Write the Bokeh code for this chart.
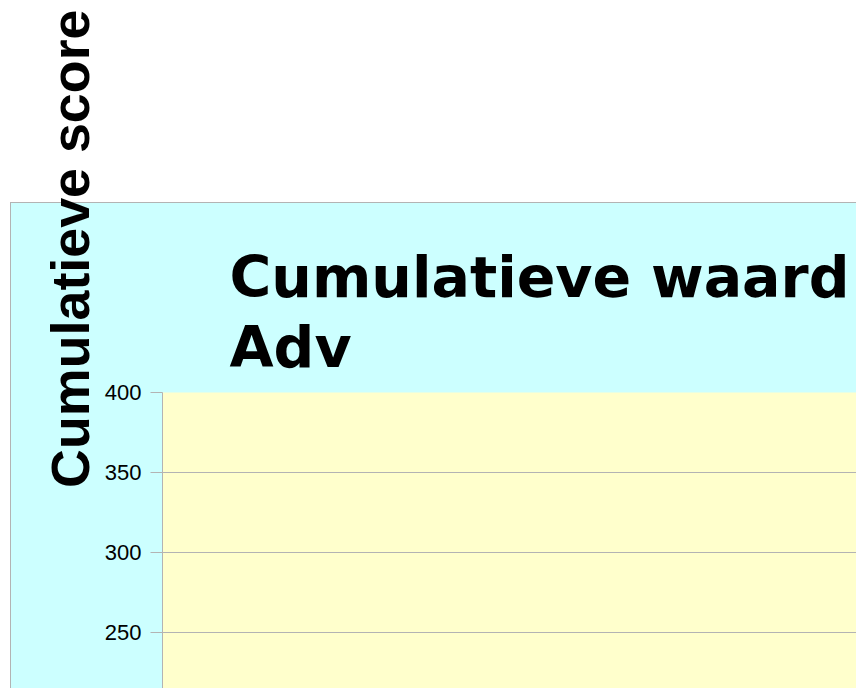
from bokeh.plotting import figure
from bokeh.models import Range1d, FixedTicker, Title
from bokeh.embed import file_html
from bokeh.resources import INLINE

# ---- data (what is visible of the chart) ----
title_text = "Cumulatieve waard\nAdv"
y_label = "Cumulatieve score"
y_ticks = [250, 300, 350, 400]
y_start, y_end = 215, 400
x_start, x_end = 0, 1

CYAN = "#ccffff"
YELLOW = "#ffffcc"
GRAY = "#b3b3b3"
FONT = "Liberation Sans"

W, H = 856, 688
FL, FT = 162, 392          # frame left / top in canvas pixels

p = figure(width=W, height=H, output_backend="svg", toolbar_location=None,
           x_range=Range1d(x_start, x_end), y_range=Range1d(y_start, y_end),
           x_axis_location=None, min_border_left=FL, min_border_top=FT,
           min_border_right=0, min_border_bottom=0)
p.border_fill_color = None
p.background_fill_color = YELLOW
p.outline_line_color = None

# cyan chart-area (wall) with a gray edge, behind the transparent border area
bx, by = 10, 202
p.styles = {
    "background": (
        f"linear-gradient({GRAY},{GRAY}) {bx}px {by}px / {W}px 1px no-repeat, "
        f"linear-gradient({GRAY},{GRAY}) {bx}px {by}px / 1px {H}px no-repeat, "
        f"linear-gradient({CYAN},{CYAN}) {bx}px {by}px / {W}px {H}px no-repeat, "
        "white"
    )
}

p.title.text = title_text
p.title.align = "left"
p.title.offset = 67
p.title.text_font = "DejaVu Sans"
p.title.text_font_size = "57px"
p.title.text_font_style = "bold"
p.title.text_color = "black"
p.title.text_line_height = 1.07
p.title.standoff = 24

ax = p.yaxis[0]
ax.ticker = FixedTicker(ticks=y_ticks)
ax.axis_line_color = GRAY
ax.major_tick_line_color = GRAY
ax.major_tick_out = 12
ax.major_tick_in = 0
ax.minor_tick_line_color = None
ax.major_label_text_font = FONT
ax.major_label_text_font_size = "22px"
ax.major_label_text_color = "black"
ax.major_label_standoff = 9

p.add_layout(Title(text=y_label, align="right", offset=-383,
                   text_font=FONT, text_font_size="53.8px", text_font_style="bold",
                   text_color="black", standoff=3), "left")

p.xgrid.visible = False
p.ygrid.ticker = FixedTicker(ticks=y_ticks)
p.ygrid.grid_line_color = GRAY
p.ygrid.grid_line_width = 1

open("out.html", "w").write(file_html(p, INLINE))
